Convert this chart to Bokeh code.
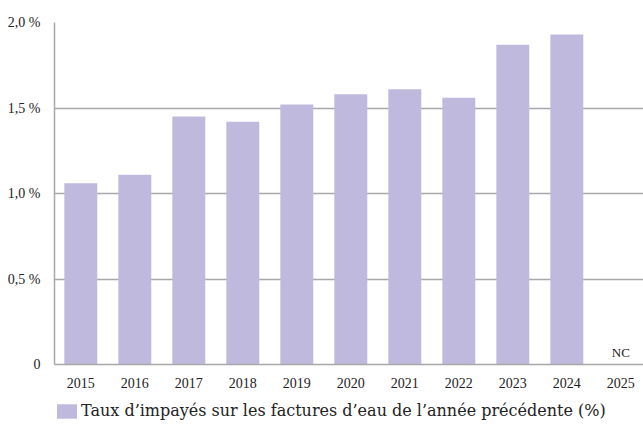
from bokeh.plotting import figure
from bokeh.layouts import column
from bokeh.models import Range1d, FixedTicker, Legend, LegendItem, ColumnDataSource
from bokeh.core.properties import value
from bokeh.embed import file_html
from bokeh.resources import INLINE

years = ["2015", "2016", "2017", "2018", "2019", "2020", "2021", "2022", "2023", "2024", "2025"]
rates = [1.06, 1.11, 1.45, 1.42, 1.52, 1.58, 1.61, 1.56, 1.87, 1.93]
missing_label = "NC"
y_ticks = [0, 0.5, 1.0, 1.5, 2.0]
y_labels = ["0", "0,5 %", "1,0 %", "1,5 %", "2,0 %"]
series_name = "Taux d’impayés sur les factures d’eau de l’année précédente (%)"

FONT = "Liberation Serif"
LEG_FONT = "DejaVu Serif"
BAR = "#bfb9de"
GRID = "#a8a8a8"
TXT = "#222222"

p = figure(width=643, height=390, output_backend="svg", toolbar_location=None,
           x_range=Range1d(-0.487, 10.42), y_range=Range1d(0, 2.0),
           min_border_left=54, min_border_top=22, min_border_right=0, min_border_bottom=26)
p.outline_line_color = None
p.border_fill_color = "white"
p.background_fill_color = "white"

idx = list(range(len(rates)))
src = ColumnDataSource(dict(x=idx, top=rates))
p.vbar(x="x", top="top", width=0.61, bottom=0, source=src, color=BAR, line_color=None)

p.text(x=[len(years) - 1], y=[0], text=[missing_label], text_align="center",
       text_baseline="bottom", y_offset=-5, text_font=value(FONT),
       text_font_size="13px", text_color=TXT)

p.xaxis.ticker = FixedTicker(ticks=list(range(len(years))))
p.xaxis.major_label_overrides = {i: y for i, y in enumerate(years)}
p.yaxis.ticker = FixedTicker(ticks=y_ticks)
p.yaxis.major_label_overrides = {t: l for t, l in zip(y_ticks, y_labels)}
for ax in (p.xaxis[0], p.yaxis[0]):
    ax.major_tick_line_color = None
    ax.minor_tick_line_color = None
    ax.axis_line_color = GRID
    ax.axis_line_width = 1.5
    ax.major_label_text_font = FONT
    ax.major_label_text_font_size = "14px"
    ax.major_label_text_color = TXT
p.xaxis.major_label_standoff = 7
p.yaxis.major_label_standoff = 8
p.yaxis.major_label_text_baseline = "alphabetic"

p.xgrid.grid_line_color = None
p.ygrid.grid_line_color = GRID
p.ygrid.grid_line_width = 1.5
p.ygrid.ticker = FixedTicker(ticks=y_ticks)

# legend strip below the chart (its frame is aligned with the chart frame)
p2 = figure(width=643, height=43, output_backend="svg", toolbar_location=None,
            x_axis_type=None, y_axis_type=None,
            x_range=Range1d(-0.487, 10.42), y_range=Range1d(5, 6),
            min_border_left=54, min_border_right=0, min_border_top=0, min_border_bottom=0)
p2.outline_line_color = None
p2.xgrid.grid_line_color = None
p2.ygrid.grid_line_color = None
# same series, drawn outside this strip's visible range: only its legend swatch shows
r2 = p2.vbar(x="x", top="top", width=0.61, bottom=0, source=src, color=BAR, line_color=None)

legend = Legend(items=[LegendItem(label=series_name, renderers=[r2])],
                location=(0, 13), orientation="horizontal",
                glyph_width=25, glyph_height=18, label_standoff=2,
                label_text_font=LEG_FONT, label_text_font_size="16px", label_text_color=TXT,
                label_height=18,
                border_line_color=None, background_fill_alpha=0,
                margin=0, padding=0)
p2.add_layout(legend, "center")

layout = column(p, p2, spacing=0)
open("out.html", "w").write(file_html(layout, INLINE))
